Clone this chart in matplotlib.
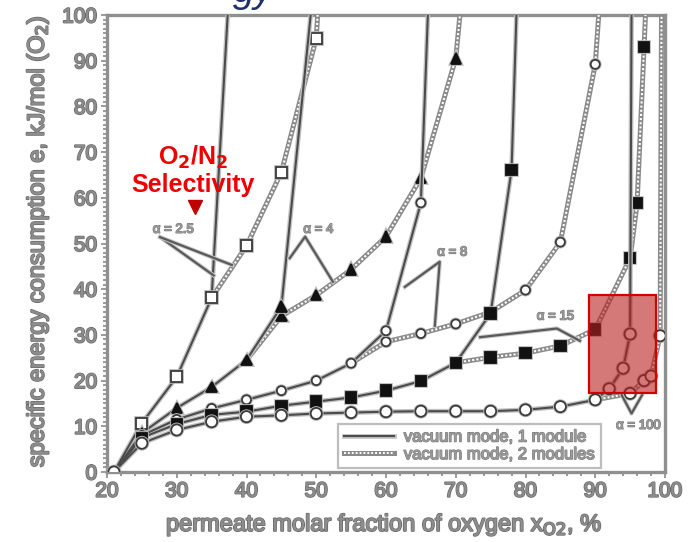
import matplotlib
matplotlib.use("Agg")
import matplotlib.pyplot as plt
import matplotlib.patheffects as pe
from matplotlib.lines import Line2D
from matplotlib.patches import Rectangle
from matplotlib.ticker import MultipleLocator
from matplotlib.legend_handler import HandlerTuple

plt.rcParams['font.family'] = ['Liberation Sans', 'DejaVu Sans']

# ---- data: permeate O2 fraction (%) vs specific energy (kJ/mol O2) ----
# alpha = 2.5
x25_1 = [21, 25, 30, 35, 37.3]
e25_1 = [0, 10.7, 20.8, 38.1, 100]
x25_2 = [35, 40, 45, 50, 50.2]
e25_2 = [38.1, 49.5, 65.6, 94.9, 100]
# alpha = 4
x4_1 = [21, 25, 30, 35, 40, 45, 49.2]
e4_1 = [0, 8.5, 14.0, 18.6, 24.5, 36.2, 100]
x4_2 = [40, 45, 50, 55, 60, 65, 70, 70.6]
e4_2 = [24.5, 34.1, 38.7, 44.3, 51.5, 64.3, 90.5, 100]
# alpha = 8
x8_1 = [21, 25, 30, 35, 40, 45, 50, 55, 60, 65, 66]
e8_1 = [0, 8.0, 11.5, 13.9, 15.8, 17.8, 20.0, 23.8, 30.9, 58.9, 100]
x8_2 = [55, 60, 65, 70, 75, 80, 85, 90, 90.5]
e8_2 = [23.8, 28.5, 30.3, 32.4, 35.0, 39.8, 50.3, 89.2, 100]
# alpha = 15
x15_1 = [21, 25, 30, 35, 40, 45, 50, 55, 60, 65, 70, 75, 78, 78.7]
e15_1 = [0, 7.5, 10.5, 12.5, 13.2, 14.5, 15.4, 16.3, 17.8, 19.9, 23.9, 34.7, 66.1, 100]
x15_2 = [70, 75, 80, 85, 90, 95, 96, 97, 97.2]
e15_2 = [23.9, 25.1, 26.0, 27.6, 31.2, 46.8, 58.8, 93.0, 100]
# alpha = 100
x100_1 = [21, 25, 30, 35, 40, 45, 50, 55, 60, 65, 70, 75, 80, 85, 90, 92, 94, 95, 95.2]
e100_1 = [0, 6.3, 9.2, 11.0, 12.1, 12.4, 12.8, 13.0, 13.2, 13.3, 13.3, 13.3, 13.6, 14.3,
          15.8, 18.2, 22.7, 30.2, 100]
x100_2 = [90, 95, 97, 98, 99.3, 99.5]
e100_2 = [15.8, 17.2, 20.0, 21.0, 29.8, 100]

x_ticks = [20, 30, 40, 50, 60, 70, 80, 90, 100]
y_ticks = [0, 10, 20, 30, 40, 50, 60, 70, 80, 90, 100]

GRAY_TXT = '#8d8d8d'
txt_fx = [pe.withStroke(linewidth=1.3, foreground='#6a6a6a'), pe.Normal()]

fig = plt.figure(figsize=(6.89, 5.42), dpi=100)
ax = fig.add_axes([107/689, 1 - 472/542, 558/689, 457/542])
ax.set_xlim(20, 100)
ax.set_ylim(0, 100)


def solid(x, e, marker=None, ms=7, mfc='white', mec='#3a3a3a', z=3, first=1):
    ax.plot(x, e, color='#c2c2c2', lw=3.4, solid_capstyle='butt', zorder=z)
    ax.plot(x, e, color='#4b4b4b', lw=1.5, zorder=z + 0.1)
    if marker:
        ax.plot(x[first:-1], e[first:-1], ls='none', marker=marker, ms=ms,
                mfc=mfc, mec=mec, mew=1.3, zorder=z + 0.3,
                path_effects=[pe.Stroke(linewidth=2.6, foreground='#b5b5b5'), pe.Normal()])


def dotted(x, e, marker=None, ms=7, mfc='white', mec='#3a3a3a', z=3, first=1):
    ax.plot(x, e, color='#8a8a8a', lw=3.6, solid_capstyle='butt', zorder=z)
    ax.plot(x, e, color='white', lw=1.5, ls=(0, (1.0, 1.0)), zorder=z + 0.1)
    if marker:
        ax.plot(x[first:-1], e[first:-1], ls='none', marker=marker, ms=ms,
                mfc=mfc, mec=mec, mew=1.3, zorder=z + 0.3,
                path_effects=[pe.Stroke(linewidth=2.6, foreground='#b5b5b5'), pe.Normal()])


# two-module branches
dotted(x25_2, e25_2, 's', 8, 'white', z=3)
dotted(x4_2, e4_2, '^', 7.5, '#111111', '#111111', z=3)
dotted(x8_2, e8_2, 'o', 6.5, 'white', z=3)
dotted(x15_2, e15_2, 's', 7.5, '#111111', '#111111', z=3)
dotted(x100_2, e100_2, 'o', 8, 'white', z=3)

# one-module curves
solid(x25_1, e25_1, 's', 8, 'white', z=4)
solid(x4_1, e4_1, '^', 7.5, '#111111', '#111111', z=4)
solid(x8_1, e8_1, 'o', 6.5, 'white', z=4)
solid(x15_1, e15_1, 's', 7.5, '#111111', '#111111', z=4)
solid(x100_1, e100_1, 'o', 8, 'white', z=4, first=0)

# selectivity labels with leader lines
lead = dict(color='#5a5a5a', lw=1.6, zorder=5,
            path_effects=[pe.Stroke(linewidth=3, foreground='#c8c8c8'), pe.Normal()])
lab = dict(fontsize=9.5, color='#9a9a9a', ha='center', va='center', zorder=6,
           path_effects=[pe.withStroke(linewidth=1.0, foreground='#777777'), pe.Normal()])

ax.text(29.5, 53, 'α = 2.5', **lab)
ax.plot([27.6, 35.3], [51.4, 43.0], **lead)
ax.plot([27.6, 37.9], [51.4, 45.3], **lead)

ax.text(50.3, 53, 'α = 4', **lab)
ax.plot([46.2, 48.4, 52.4], [46.8, 51.5, 41.6], **lead)

ax.text(69.5, 48, 'α = 8', **lab)
ax.plot([62.7, 67.7, 67.0], [40.5, 46.0, 32.0], **lead)

ax.text(84.3, 34, 'α = 15', **lab)
ax.plot([73.5, 84.5, 87.8], [29.5, 31.4, 28.7], **lead)

ax.text(96.2, 10.1, 'α = 100', **lab)
ax.plot([93.8, 95.2, 96.7], [16.8, 12.8, 16.8], **lead)

# highlighted region
ax.add_patch(Rectangle((89.1, 17.2), 9.6, 21.5, facecolor=(0.72, 0.12, 0.12),
                       alpha=0.6, edgecolor='none', zorder=7))
ax.add_patch(Rectangle((89.1, 17.2), 9.6, 21.5, facecolor='none',
                       edgecolor='#d40000', lw=1.6, zorder=7.1))

# red annotation
ax.text(32.3, 68.9, 'O$_\\mathbf{2}$/N$_\\mathbf{2}$', color='#ee0000', fontsize=18,
        fontweight='bold', ha='center', va='center', zorder=8)
ax.text(32.3, 62.8, 'Selectivity', color='#ee0000', fontsize=18,
        fontweight='bold', ha='center', va='center', zorder=8)
ax.plot([32.6], [58.0], marker='v', ms=10, color='#c00000', ls='none', zorder=8)

# legend
h1a = Line2D([], [], color='#c2c2c2', lw=3.4)
h1b = Line2D([], [], color='#4b4b4b', lw=1.5)
h2a = Line2D([], [], color='#8a8a8a', lw=3.6)
h2b = Line2D([], [], color='white', lw=1.4, ls=(0, (1.0, 1.0)))
leg = ax.legend([(h1a, h1b), (h2a, h2b)],
                ['vacuum mode, 1 module', 'vacuum mode, 2 modules'],
                handler_map={tuple: HandlerTuple(ndivide=1)},
                loc='lower left', bbox_to_anchor=(0.414, 0.009), borderaxespad=0,
                fontsize=12, handlelength=3.0, handletextpad=0.6, labelspacing=0.15,
                borderpad=0.35, fancybox=False, framealpha=1, edgecolor='#bdbdbd')
leg.get_frame().set_linewidth(1.6)
leg.set_zorder(9)
for t in leg.get_texts():
    t.set_color('#9a9a9a')
    t.set_path_effects([pe.withStroke(linewidth=1.0, foreground='#767676'), pe.Normal()])

# axes styling
for s in ax.spines.values():
    s.set_color('#8f8f8f')
    s.set_linewidth(2.4)
ax.set_xticks(x_ticks)
ax.set_yticks(y_ticks)
ax.xaxis.set_minor_locator(MultipleLocator(2))
ax.yaxis.set_minor_locator(MultipleLocator(1))
ax.tick_params(which='both', direction='out', color='#8a8a8a', width=1.2,
               top=False, right=False)
ax.tick_params(which='major', length=4, labelsize=15, labelcolor=GRAY_TXT, pad=3)
ax.tick_params(which='minor', length=3)
for t in ax.get_xticklabels() + ax.get_yticklabels():
    t.set_path_effects(txt_fx)

ax.set_xlabel('permeate molar fraction of oxygen x$_{\\mathrm{O2}}$, %', fontsize=17,
              color=GRAY_TXT, path_effects=txt_fx, va='center')
ax.set_ylabel('specific energy consumption e, kJ/mol (O$_2$)', fontsize=17,
              color=GRAY_TXT, path_effects=txt_fx, va='center')
ax.xaxis.set_label_coords(0.497, -0.116)
ax.yaxis.set_label_coords(-0.124, 0.505)

# partial heading glyphs at the very top edge
fig.text(233/689, 1 - 2/542, 'gy', fontsize=28, color='#1f2f6b', style='italic',
         va='baseline', ha='left')

fig.savefig('out.png', dpi=100)
